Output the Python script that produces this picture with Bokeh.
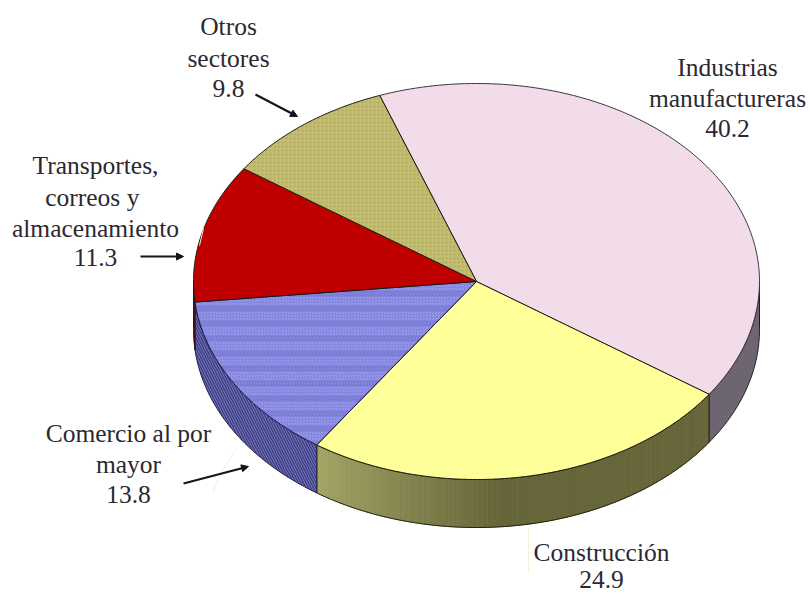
import numpy as np
from bokeh.embed import file_html
from bokeh.models import Arrow, NormalHead, Range1d
from bokeh.plotting import figure
from bokeh.resources import INLINE
from bokeh.core.properties import value

categories = ["Industrias manufactureras", "Construcción", "Comercio al por mayor",
              "Transportes, correos y almacenamiento", "Otros sectores"]
shares = [40.2, 24.9, 13.8, 11.3, 9.8]
top_colors = ["#f2dcea", "#ffff99", "#9598ea", "#c00000", "#c2bd70"]
wall_colors = ["#6d6570", "#67673a", "#6768b0", "#7a0808", "#77733f"]

label_lines = [
    ["Industrias", "manufactureras", "40.2"],
    ["Construcción", "24.9"],
    ["Comercio al por", "mayor", "13.8"],
    ["Transportes,", "correos  y", "almacenamiento", "11.3"],
    ["Otros", "sectores", "9.8"],
]
label_x = [727, 601, 128, 95, 228]
label_y = [[67, 98, 128], [552, 579], [433, 464, 494], [165, 197, 228, 257], [26, 58, 88]]

CX, CY, RX, RY, DEPTH, START = 476, 281, 283, 198, 48, -20.0
TEXT = "#2b2833"


def ell(t, dy=0.0):
    r = np.radians(t)
    return CX + RX * np.sin(r), CY - RY * np.cos(r) + dy


def arc(a, b, n=None):
    n = n or max(2, int(abs(b - a)) * 2 + 2)
    return np.linspace(a, b, n)


p = figure(width=810, height=595, output_backend="svg", toolbar_location=None,
           x_range=Range1d(0, 810), y_range=Range1d(595, 0), min_border=0)
p.axis.visible = False
p.grid.visible = False
p.outline_line_color = None
p.background_fill_color = "white"
p.border_fill_color = "white"

edges = START + np.concatenate([[0], np.cumsum(shares)]) * 3.6


def wall_patch(a, b):
    t = arc(a, b)
    x1, y1 = ell(t)
    x2, y2 = ell(t[::-1], DEPTH)
    return np.concatenate([x1, x2]), np.concatenate([y1, y2])


# Side walls: only the front half of the disc shows
for i in range(len(shares)):
    a, b = max(edges[i], 90), min(edges[i + 1], 270)
    if a >= b:
        continue
    x, y = wall_patch(a, b)
    if i == 1:  # gradient wall of the Construcción slice
        steps = np.arange(a, b, 1.0)
        for s in steps:
            f = np.clip((s - 175) / (b - 175), 0, 1)
            c0 = np.array([0x66, 0x66, 0x3a])
            c1 = np.array([0xa6, 0xa6, 0x68])
            col = c0 + (c1 - c0) * f
            hexc = "#%02x%02x%02x" % tuple(int(v) for v in col)
            sx, sy = wall_patch(s, min(s + 1.0, b))
            p.patch(sx, sy, fill_color=hexc, line_color=hexc, line_width=0.8)
        p.patch(x, y, fill_color=None, line_color="#20200f", line_width=1)
    elif i == 2:
        p.patch(x, y, fill_color="#7071ba", line_color="#20204a", line_width=1,
                hatch_pattern="left_diagonal_line", hatch_color="#3a3a7a",
                hatch_scale=5, hatch_weight=1.2)
    else:
        p.patch(x, y, fill_color=wall_colors[i], line_color="#201a20", line_width=1)

# Top faces
for i in range(len(shares)):
    t = arc(edges[i], edges[i + 1])
    ex, ey = ell(t)
    x = np.concatenate([[CX], ex])
    y = np.concatenate([[CY], ey])
    if i == 2:
        p.patch(x, y, fill_color="#9a9df0", line_color=None,
                hatch_pattern="horizontal_line", hatch_color="#6f72c8",
                hatch_scale=15, hatch_weight=6, hatch_alpha=0.9)
        p.patch(x, y, fill_color=None, line_color="#15153a", line_width=1,
                hatch_pattern="criss_cross", hatch_color="#8386dc",
                hatch_scale=3, hatch_weight=1, hatch_alpha=0.8)
    elif i == 4:
        p.patch(x, y, fill_color=top_colors[i], line_color="#1a1a10", line_width=1,
                hatch_pattern="dot", hatch_color="#aca75c",
                hatch_scale=4, hatch_weight=1)
    else:
        lc = "#3a3038" if i == 0 else "#1a1a10"
        p.patch(x, y, fill_color=top_colors[i], line_color=lc, line_width=1)

# Faint leader remnants
p.line([528, 528], [527, 572], line_color="#f6f1da", line_width=1)
p.line([236, 222, 212], [448, 470, 492], line_color="#f6f1da", line_width=1)
p.line([203, 199], [228, 245], line_color="#f7efcf", line_width=1)

# Arrows
for (x0, y0, x1, y1) in [(255, 94, 297, 116), (140, 256, 183, 256), (183, 483, 248, 466)]:
    p.add_layout(Arrow(end=NormalHead(size=7, fill_color="#1a1020", line_color="#1a1020"),
                       x_start=x0, y_start=y0, x_end=x1, y_end=y1,
                       line_color="#1a1020", line_width=2.2))

# Labels
for lines, lx, ys in zip(label_lines, label_x, label_y):
    p.text(x=[lx] * len(lines), y=ys, text=lines, text_align="center",
           text_baseline="middle", text_font=value("Liberation Serif"),
           text_font_size="25.5px", text_color=TEXT)

open("out.html", "w").write(file_html(p, INLINE))
